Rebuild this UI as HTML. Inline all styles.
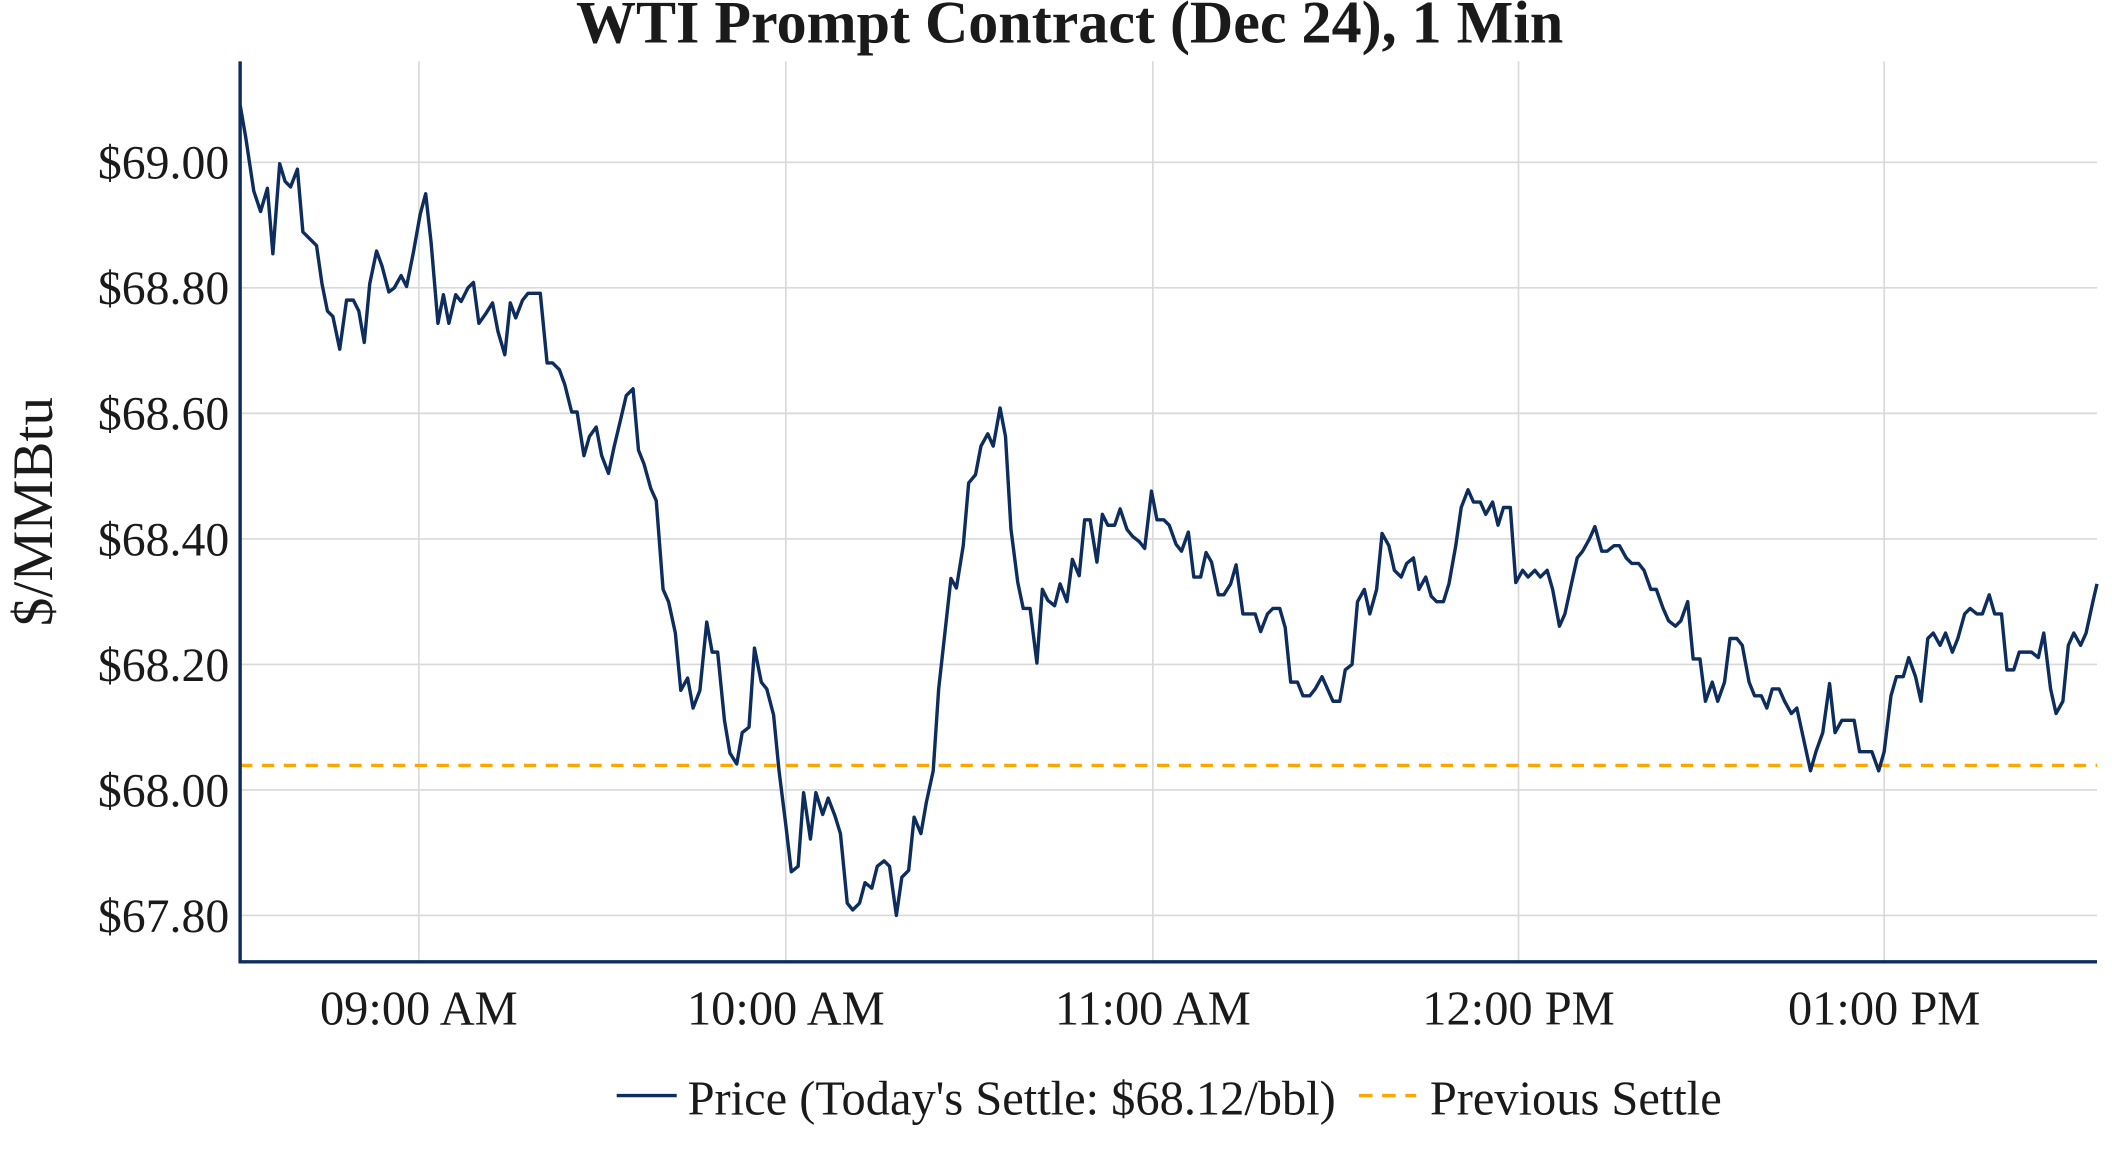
<!DOCTYPE html>
<html><head><meta charset="utf-8"><style>
html,body{margin:0;padding:0;background:#fff;}
svg{display:block;}
text{font-family:"Liberation Serif","Times New Roman",serif;fill:#1a1a1a;}
</style></head><body>
<svg width="2112" height="1152" viewBox="0 0 1548 844.4" preserveAspectRatio="none" xmlns="http://www.w3.org/2000/svg">
<rect width="1548" height="845" fill="#fff"/>
<g stroke="#d9d9d9" stroke-width="1.2">
<line x1="176" x2="1537" y1="119" y2="119"/><line x1="176" x2="1537" y1="211" y2="211"/>
<line x1="176" x2="1537" y1="303" y2="303"/><line x1="176" x2="1537" y1="395" y2="395"/>
<line x1="176" x2="1537" y1="487" y2="487"/><line x1="176" x2="1537" y1="579" y2="579"/>
<line x1="176" x2="1537" y1="671" y2="671"/>
<line x1="307" x2="307" y1="45" y2="705"/><line x1="576" x2="576" y1="45" y2="705"/>
<line x1="845" x2="845" y1="45" y2="705"/><line x1="1113" x2="1113" y1="45" y2="705"/>
<line x1="1381" x2="1381" y1="45" y2="705"/>
</g>
<line x1="176" x2="1537" y1="561" y2="561" stroke="#ffa500" stroke-width="2.4" stroke-dasharray="9,7"/>
<polyline fill="none" stroke="#0d2d5e" stroke-width="2.5" stroke-linejoin="round" points="176,77 180,100 186,140 191,155 196,138 200,186 205,120 209,133 213,137 218,124 222,170 227,175 232,180 236,208 240,228 244,232 249,256 254,220 259,220 263,228 267,251 271,208 276,184 280,195 285,214 289,211 294,202 298,210 303,185 308,157 312,142 316,178 321,237 325,216 329,237 334,216 338,221 343,211 347,207 351,237 356,230 361,222 365,243 370,260 374,222 378,233 383,220 387,215 392,215 396,215 401,266 405,266 410,271 414,282 419,302 423,302 428,334 432,320 437,313 441,334 446,347 450,328 455,307 459,290 464,285 468,330 472,340 477,358 481,367 486,432 490,441 495,464 499,506 504,497 508,519 513,506 518,456 522,478 526,478 531,528 535,552 540,560 544,537 549,533 553,475 558,500 562,505 567,524 571,565 576,605 580,639 585,635 589,581 594,615 598,581 603,597 607,585 612,598 616,611 621,662 625,667 630,662 634,647 639,651 643,635 648,631 652,635 657,671 661,643 666,638 670,599 675,611 679,588 684,565 688,505 693,460 697,424 701,431 706,400 710,354 715,348 719,327 724,318 728,327 733,299 737,320 741,388 746,427 750,446 755,446 760,486 764,432 768,440 773,444 777,428 782,441 786,410 791,422 795,381 799,381 804,412 808,377 812,385 817,385 821,373 826,388 830,393 835,397 839,402 844,360 848,381 853,381 857,385 862,399 866,404 871,390 875,423 880,423 884,405 888,412 893,436 897,436 902,428 906,414 911,450 916,450 920,450 924,463 929,450 933,446 938,446 942,460 946,500 951,500 955,510 960,510 964,505 969,496 973,505 977,514 982,514 986,491 991,487 995,441 1000,432 1004,450 1009,432 1013,391 1018,400 1022,418 1027,423 1031,413 1036,409 1040,432 1045,423 1049,437 1053,441 1058,441 1062,428 1067,400 1071,372 1076,359 1080,368 1085,368 1089,377 1094,368 1098,385 1102,372 1107,372 1111,427 1116,418 1120,423 1125,418 1129,423 1134,418 1138,432 1143,459 1147,450 1152,427 1156,409 1160,404 1165,395 1169,386 1174,404 1178,404 1183,400 1187,400 1192,409 1196,413 1201,413 1205,418 1210,432 1214,432 1219,446 1223,455 1228,459 1232,455 1237,441 1241,483 1246,483 1250,514 1255,500 1259,514 1264,500 1268,468 1273,468 1277,473 1282,500 1286,510 1291,510 1295,519 1299,505 1304,505 1308,514 1313,523 1317,519 1322,542 1327,565 1331,551 1336,537 1341,501 1345,537 1350,528 1354,528 1359,528 1363,551 1368,551 1372,551 1377,565 1381,551 1386,510 1390,496 1395,496 1399,482 1404,496 1408,514 1413,468 1417,464 1422,473 1426,464 1431,478 1435,468 1440,450 1444,446 1449,450 1453,450 1458,436 1462,450 1467,450 1471,491 1476,491 1480,478 1485,478 1489,478 1494,482 1498,464 1503,505 1507,523 1512,514 1516,473 1520,464 1525,473 1529,464 1534,441 1537,428"/>
<line x1="176" x2="176" y1="45" y2="706" stroke="#0d2d5e" stroke-width="2.5"/>
<line x1="175" x2="1537" y1="705" y2="705" stroke="#0d2d5e" stroke-width="2.5"/>
<g font-size="35" text-anchor="end">
<text x="168" y="131">$69.00</text><text x="168" y="223">$68.80</text>
<text x="168" y="315">$68.60</text><text x="168" y="407">$68.40</text>
<text x="168" y="499">$68.20</text><text x="168" y="591">$68.00</text>
<text x="168" y="683">$67.80</text>
</g>
<g font-size="35.5" text-anchor="middle">
<text x="307" y="751">09:00 AM</text><text x="576" y="751">10:00 AM</text>
<text x="845" y="751">11:00 AM</text><text x="1113" y="751">12:00 PM</text>
<text x="1381" y="751">01:00 PM</text>
</g>
<text x="784" y="31" font-size="44" font-weight="bold" text-anchor="middle">WTI Prompt Contract (Dec 24), 1 Min</text>
<text transform="translate(38,375) rotate(-90)" font-size="42" text-anchor="middle">$/MMBtu</text>
<line x1="452" x2="496" y1="803" y2="803" stroke="#0d2d5e" stroke-width="2.5"/>
<text x="504" y="817" font-size="35.5">Price (Today's Settle: $68.12/bbl)</text>
<line x1="996" x2="1038" y1="803" y2="803" stroke="#ffa500" stroke-width="2.5" stroke-dasharray="10,7"/>
<text x="1048" y="817" font-size="35.5">Previous Settle</text>
</svg>
</body></html>
